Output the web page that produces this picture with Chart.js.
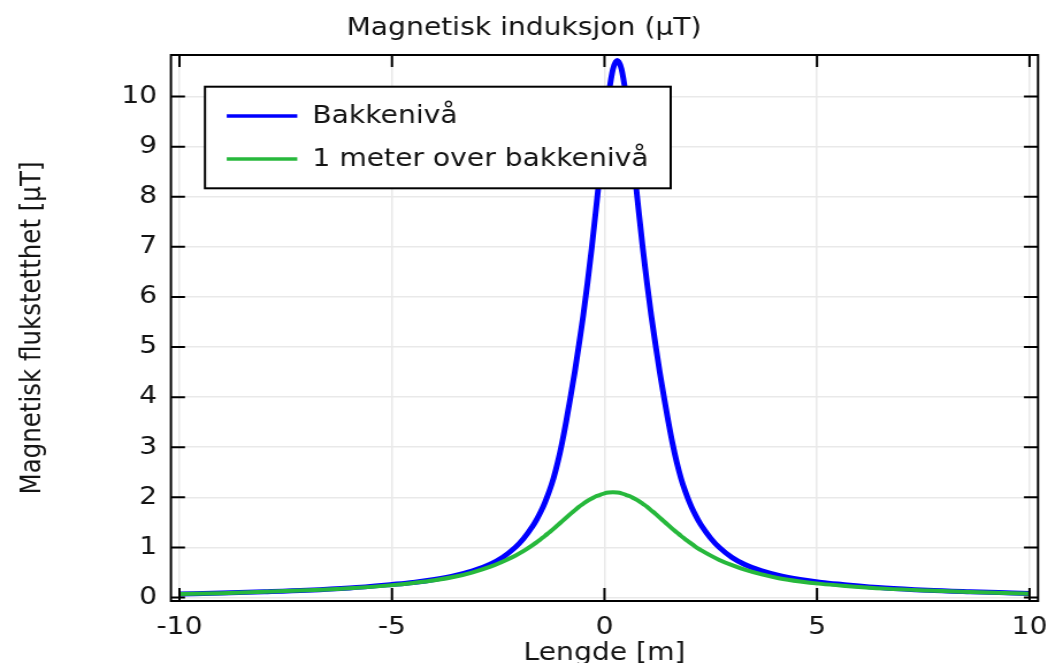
<!DOCTYPE html>
<html lang="no">
<head>
<meta charset="utf-8">
<title>Magnetisk induksjon</title>
<script src="https://cdn.jsdelivr.net/npm/chart.js@4.4.1/dist/chart.umd.min.js"></script>
<style>
  html, body { margin: 0; padding: 0; background: #fff; overflow: hidden; }
  /* the figure is laid out 911 px wide and widened to the 1048 px page */
  #figur { width: 911px; height: 663px; transform: scaleX(1.1504); transform-origin: 0 0; }
  canvas { display: block; }
</style>
</head>
<body>
<div id="figur"><canvas id="graf" width="911" height="663"></canvas></div>
<script>
// Lengde langs profilet [m]
const lengde = [-10, -9, -8, -7, -6, -5, -4.5, -4, -3.5, -3.1, -2.7, -2.4, -2.1, -1.9, -1.7,
  -1.6, -1.5, -1.4, -1.3, -1.2, -1.1, -1.0, -0.9, -0.8, -0.7, -0.6, -0.5, -0.4, -0.3, -0.2,
  -0.1, 0, 0.1, 0.2, 0.3, 0.4, 0.5, 0.6, 0.7, 0.8, 0.9, 1.0, 1.1, 1.2, 1.3, 1.4, 1.5, 1.6,
  1.7, 1.8, 1.9, 2.0, 2.1, 2.2, 2.3, 2.5, 2.7, 3.0, 3.3, 3.7, 4.1, 4.6, 5.1, 5.6, 6.6, 7.6,
  8.6, 9.6, 10];

// Flukstetthet på bakkenivå [µT]
const bakkeniva = [0.07, 0.09, 0.115, 0.145, 0.19, 0.26, 0.3, 0.36, 0.44, 0.53, 0.66, 0.8,
  1.0, 1.18, 1.41, 1.55, 1.71, 1.9, 2.12, 2.38, 2.7, 3.08, 3.52, 4.0, 4.5, 5.05, 5.63, 6.28,
  6.98, 7.75, 8.55, 9.35, 10.05, 10.55, 10.72, 10.55, 10.05, 9.35, 8.55, 7.75, 6.98, 6.28,
  5.63, 5.05, 4.5, 4.0, 3.52, 3.08, 2.7, 2.38, 2.12, 1.9, 1.71, 1.55, 1.41, 1.18, 1.0, 0.8,
  0.66, 0.53, 0.44, 0.36, 0.3, 0.26, 0.19, 0.145, 0.115, 0.09, 0.08];

// Flukstetthet 1 meter over bakkenivå [µT]
const enMeterOver = [0.069, 0.087, 0.113, 0.144, 0.185, 0.247, 0.29, 0.343, 0.418, 0.503,
  0.61, 0.715, 0.835, 0.93, 1.04, 1.1, 1.165, 1.23, 1.3, 1.37, 1.445, 1.52, 1.595, 1.67, 1.74,
  1.81, 1.87, 1.93, 1.975, 2.02, 2.05, 2.08, 2.095, 2.1, 2.095, 2.08, 2.05, 2.02, 1.975, 1.93,
  1.87, 1.81, 1.74, 1.67, 1.595, 1.52, 1.445, 1.37, 1.3, 1.23, 1.165, 1.1, 1.04, 0.98, 0.93,
  0.835, 0.75, 0.645, 0.555, 0.46, 0.385, 0.32, 0.272, 0.236, 0.177, 0.138, 0.108, 0.083,
  0.075];

const serieNavn = ['Bakkenivå', '1 meter over bakkenivå'];
const xTicks = [-10, -5, 0, 5, 10];
const yTicks = [0, 1, 2, 3, 4, 5, 6, 7, 8, 9, 10];

const FONT = "'DejaVu Sans', 'Liberation Sans', sans-serif";
const TEKST = '#141414';
const fontSize = 24.5;

// frame with inward ticks on all four sides, and the legend box inside the plot
const rammeOgForklaring = {
  id: 'rammeOgForklaring',
  afterDraw(chart) {
    const { ctx, chartArea: a, scales } = chart;
    const sx = scales.x, sy = scales.y;
    ctx.save();
    ctx.strokeStyle = '#000';
    ctx.lineWidth = 2;
    ctx.beginPath();
    for (const v of xTicks) {
      const px = sx.getPixelForValue(v);
      ctx.moveTo(px, a.bottom); ctx.lineTo(px, a.bottom - 13);
      ctx.moveTo(px, a.top); ctx.lineTo(px, a.top + 12);
    }
    for (const v of yTicks) {
      const py = sy.getPixelForValue(v);
      ctx.moveTo(a.left, py); ctx.lineTo(a.left + 12.2, py);
      ctx.moveTo(a.right, py); ctx.lineTo(a.right - 12.2, py);
    }
    ctx.stroke();
    ctx.strokeRect(a.left, a.top, a.right - a.left, a.bottom - a.top);

    const bx = a.left + 29.6, by = a.top + 31.7, bw = 404.8, bh = 101.6;
    ctx.fillStyle = '#fff';
    ctx.fillRect(bx, by, bw, bh);
    ctx.strokeStyle = '#000';
    ctx.lineWidth = 2;
    ctx.strokeRect(bx, by, bw, bh);
    chart.data.datasets.forEach((ds, i) => {
      const ly = by + 29.3 + i * 43;
      ctx.strokeStyle = ds.borderColor;
      ctx.lineWidth = 3.5;
      ctx.beginPath();
      ctx.moveTo(bx + 18.9, ly);
      ctx.lineTo(bx + 80.2, ly);
      ctx.stroke();
      ctx.fillStyle = TEKST;
      ctx.font = `${fontSize}px ${FONT}`;
      ctx.textAlign = 'left';
      ctx.textBaseline = 'middle';
      ctx.fillText(ds.label, bx + 93.3, ly + 1);
    });
    ctx.restore();
  }
};

const tickFont = { family: FONT, size: fontSize, weight: 'normal' };

new Chart(document.getElementById('graf'), {
  type: 'line',
  data: {
    datasets: [
      {
        label: serieNavn[0],
        data: lengde.map((x, i) => ({ x, y: bakkeniva[i] })),
        borderColor: '#0000ff',
        borderWidth: 5,
        pointRadius: 0,
        cubicInterpolationMode: 'monotone',
        fill: false,
        order: 2
      },
      {
        label: serieNavn[1],
        data: lengde.map((x, i) => ({ x, y: enMeterOver[i] })),
        borderColor: '#27b83c',
        borderWidth: 4,
        pointRadius: 0,
        cubicInterpolationMode: 'monotone',
        fill: false,
        order: 1
      }
    ]
  },
  options: {
    responsive: false,
    animation: false,
    devicePixelRatio: 1,
    layout: { autoPadding: false, padding: 0 },
    plugins: {
      legend: { display: false },
      tooltip: { enabled: false },
      title: {
        display: true,
        text: 'Magnetisk induksjon (μT)',
        color: TEKST,
        font: { family: FONT, size: fontSize, weight: 'normal' },
        padding: { top: 14, bottom: 11.6 }
      }
    },
    scales: {
      x: {
        type: 'linear',
        min: -10.2,
        max: 10.2,
        afterBuildTicks(s) { s.ticks = xTicks.map(v => ({ value: v })); },
        afterFit(s) { s.height = 62; s.paddingLeft = 0; s.paddingRight = 0; },
        ticks: {
          callback: v => String(v),
          color: TEKST,
          font: tickFont,
          padding: 12,
          maxRotation: 0,
          autoSkip: false
        },
        grid: { color: '#e9e9e9', lineWidth: 1.5, drawTicks: false },
        border: { display: false },
        title: {
          display: true,
          text: 'Lengde [m]',
          color: TEKST,
          font: tickFont,
          padding: { top: 0, bottom: -5 }
        }
      },
      y: {
        type: 'linear',
        min: -0.07,
        max: 10.83,
        afterBuildTicks(s) { s.ticks = yTicks.map(v => ({ value: v })); },
        afterFit(s) { s.width = 148.6; s.paddingTop = 0; s.paddingBottom = 0; },
        ticks: {
          callback: v => String(v),
          color: TEKST,
          font: tickFont,
          padding: 12,
          autoSkip: false
        },
        grid: { color: '#e9e9e9', lineWidth: 1.5, drawTicks: false },
        border: { display: false },
        title: {
          display: true,
          text: 'Magnetisk flukstetthet [μT]',
          color: TEKST,
          font: tickFont,
          padding: { top: 14, bottom: 0 }
        }
      },
      kant: {
        type: 'linear',
        position: 'right',
        display: true,
        afterFit(s) { s.width = 8.7; },
        ticks: { display: false },
        grid: { display: false },
        border: { display: false }
      }
    }
  },
  plugins: [rammeOgForklaring]
});
</script>
</body>
</html>
